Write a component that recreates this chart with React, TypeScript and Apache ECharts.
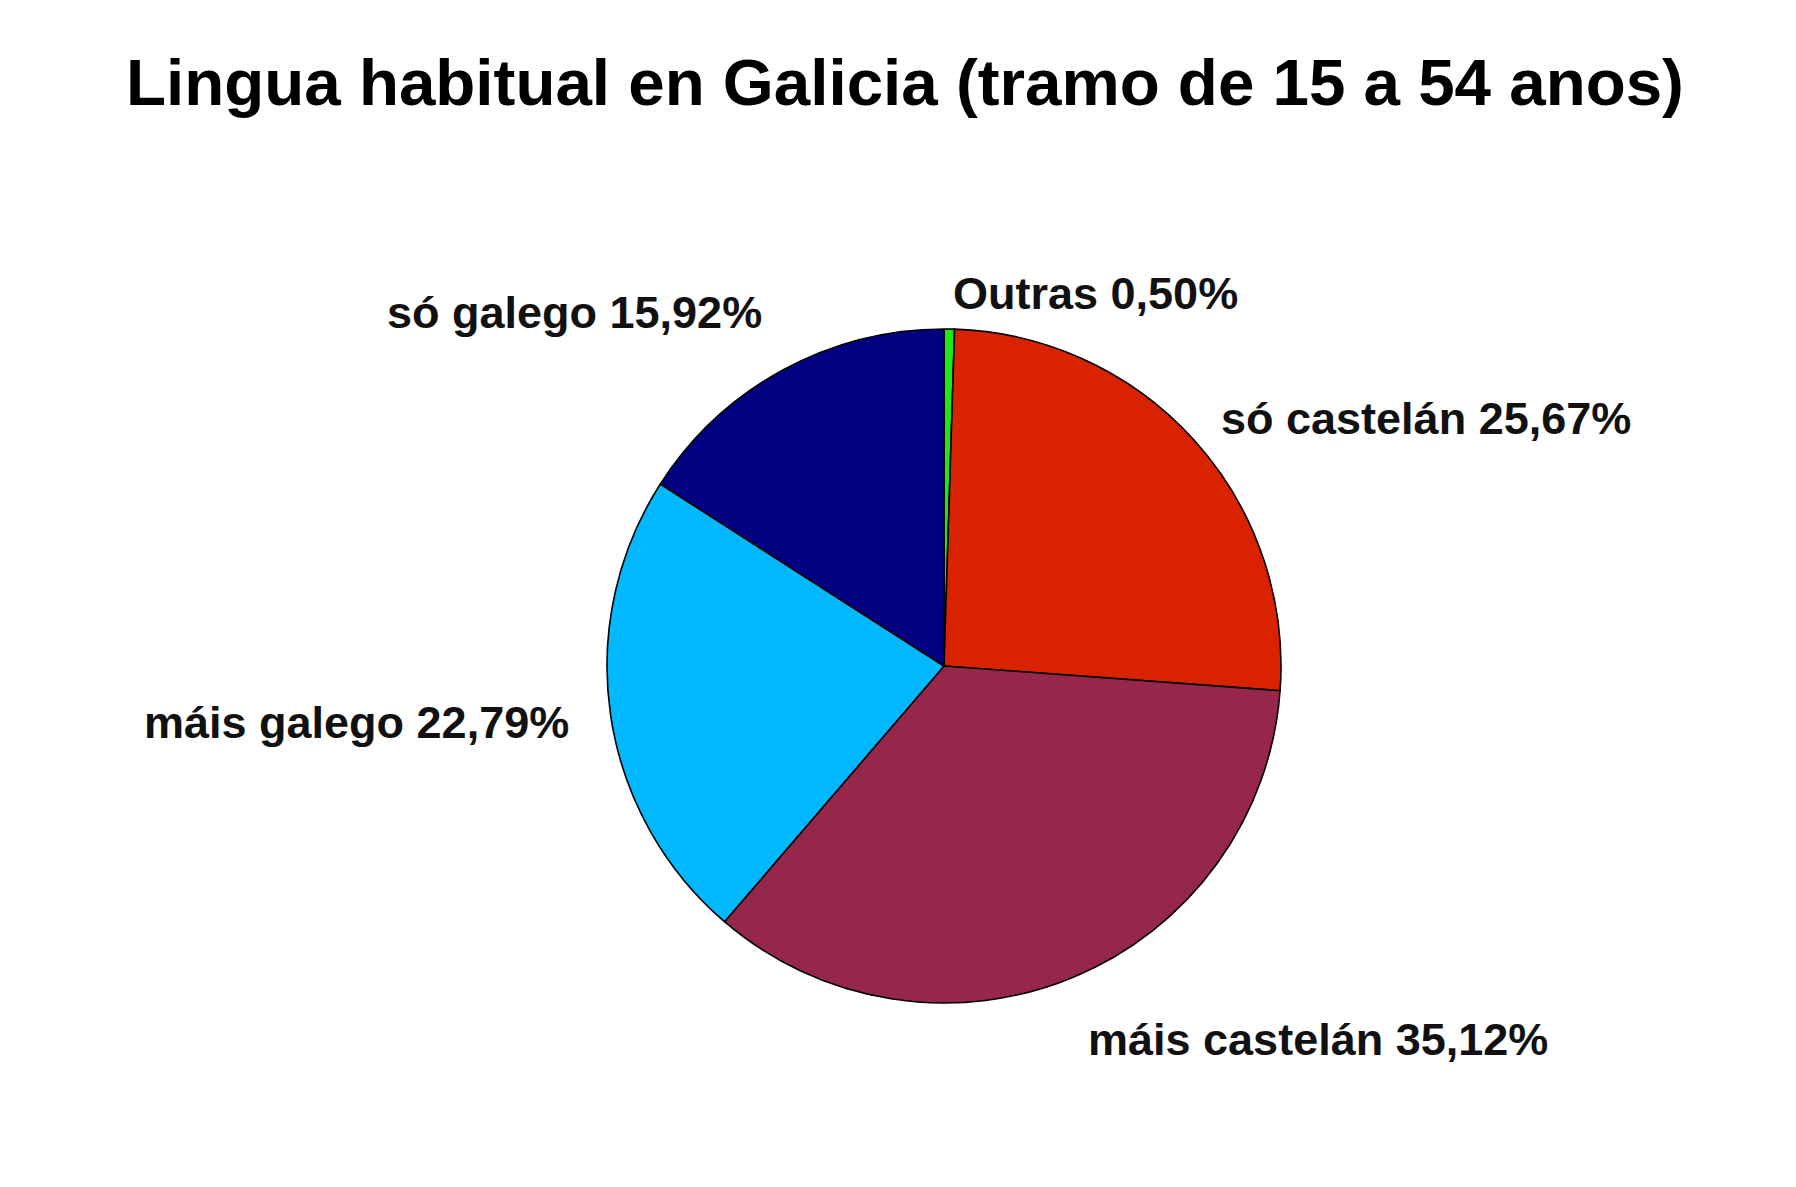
import React, { useEffect, useRef } from "react";
import * as echarts from "echarts";

const TITLE = "Lingua habitual en Galicia (tramo de 15 a 54 anos)";
const categories = ["Outras", "só castelán", "máis castelán", "máis galego", "só galego"];
const values = [0.5, 25.67, 35.12, 22.79, 15.92];
const valueLabels = ["0,50%", "25,67%", "35,12%", "22,79%", "15,92%"];
const colors = ["#1ee619", "#d92300", "#97264b", "#00b8ff", "#000080"];

// label anchor positions (left edge, vertical middle) in page pixels
const labelAnchors = [
  [953, 293],
  [1221, 418],
  [1088, 1039],
  [144, 722],
  [387, 312],
];

export default function App() {
  const ref = useRef<HTMLDivElement>(null);
  useEffect(() => {
    document.body.style.margin = "0";
    const chart = echarts.init(ref.current!, null, { renderer: "svg" });
    chart.setOption({
      animation: false,
      backgroundColor: "#ffffff",
      title: {
        text: TITLE,
        left: 900,
        textAlign: "center",
        top: 44,
        textStyle: {
          fontFamily: "Liberation Sans",
          fontWeight: "bold",
          fontSize: 65.5,
          color: "#000",
        },
      },
      series: [
        {
          type: "pie",
          center: [944, 666],
          radius: [0, 337],
          startAngle: 90,
          clockwise: true,
          minAngle: 0,
          avoidLabelOverlap: false,
          itemStyle: { borderColor: "#000", borderWidth: 1.6 },
          label: {
            show: true,
            position: "outside",
            formatter: (p: any) => `${p.name} ${valueLabels[p.dataIndex]}`,
            fontFamily: "Liberation Sans",
            fontWeight: "bold",
            fontSize: 45,
            color: "#111",
          },
          labelLine: { show: false },
          labelLayout: (p: any) => ({
            x: labelAnchors[p.dataIndex][0],
            y: labelAnchors[p.dataIndex][1],
            align: "left",
            verticalAlign: "middle",
          }),
          emphasis: { disabled: true },
          data: categories.map((c, i) => ({
            name: c,
            value: values[i],
            itemStyle: { color: colors[i] },
          })),
        },
      ],
    });
    return () => chart.dispose();
  }, []);
  return <div ref={ref} style={{ width: 1796, height: 1187 }} />;
}
